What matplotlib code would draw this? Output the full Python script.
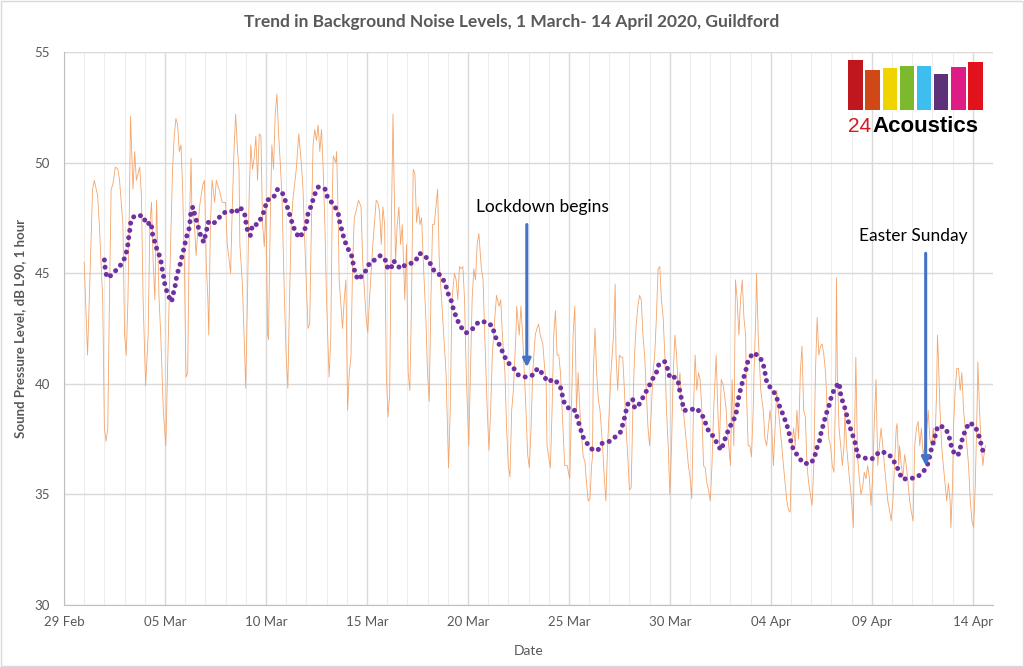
import pandas as pd
import matplotlib
matplotlib.use("Agg")
from matplotlib import pyplot as plt
from matplotlib.patches import Rectangle

# hourly background noise as (hours after 29 Feb 00:00, dB)
noise_hours = [
    24, 28, 32, 34, 36, 40, 42, 46, 48, 50, 52, 54, 56, 58, 61, 64, 66, 70, 72, 74,
    76, 78, 79, 82, 84, 86, 90, 92, 94, 97, 100, 102, 104, 106, 108, 110, 113, 115, 118, 121,
    123, 125, 129, 131, 133, 135, 137, 139, 141, 143, 145, 147, 149, 151, 152, 155, 157, 161, 165, 167,
    169, 171, 172, 174, 176, 179, 181, 185, 188, 192, 194, 196, 198, 200, 202, 204, 206, 208, 209, 212,
    216, 218, 220, 222, 224, 226, 228, 230, 232, 234, 236, 238, 240, 242, 243, 245, 247, 249, 251, 253,
    255, 257, 259, 262, 264, 266, 268, 270, 272, 276, 279, 282, 284, 287, 290, 292, 294, 296, 298, 300,
    302, 304, 306, 308, 310, 312, 315, 317, 319, 320, 323, 324, 326, 327, 331, 333, 335, 337, 339, 341,
    343, 345, 347, 350, 353, 355, 359, 361, 363, 367, 371, 373, 375, 377, 379, 381, 383, 385, 387, 389,
    391, 392, 394, 396, 398, 400, 402, 405, 407, 409, 411, 413, 415, 417, 419, 421, 423, 425, 427, 430,
    432, 434, 436, 438, 440, 442, 444, 446, 450, 454, 457, 459, 461, 464, 466, 468, 470, 472, 474, 476,
    478, 481, 483, 485, 487, 489, 491, 493, 496, 498, 500, 503, 505, 507, 509, 512, 514, 517, 519, 521,
    524, 526, 528, 530, 532, 534, 537, 538, 541, 543, 545, 547, 549, 551, 553, 555, 557, 560, 562, 564,
    566, 569, 571, 573, 574, 576, 578, 580, 582, 584, 586, 588, 590, 592, 595, 598, 601, 603, 605, 607,
    608, 609, 611, 613, 615, 617, 619, 621, 623, 625, 627, 628, 629, 631, 633, 635, 637, 640, 642, 644,
    646, 648, 650, 653, 655, 656, 658, 660, 662, 664, 666, 668, 670, 672, 674, 676, 678, 680, 682, 684,
    686, 688, 690, 692, 694, 696, 698, 700, 702, 704, 706, 708, 710, 712, 714, 716, 718, 720, 722, 724,
    726, 728, 730, 732, 734, 736, 738, 740, 742, 744, 746, 748, 750, 752, 754, 756, 758, 760, 762, 764,
    766, 768, 770, 772, 774, 775, 777, 779, 781, 783, 785, 787, 788, 790, 792, 794, 796, 798, 800, 802,
    804, 806, 808, 810, 811, 813, 815, 817, 819, 820, 822, 823, 825, 827, 828, 831, 833, 835, 837, 839,
    841, 843, 845, 847, 849, 851, 853, 855, 857, 859, 861, 863, 865, 867, 869, 871, 873, 875, 877, 879,
    881, 883, 885, 887, 889, 891, 893, 895, 897, 899, 901, 903, 905, 907, 909, 911, 913, 915, 917, 918,
    919, 921, 923, 925, 927, 928, 930, 932, 934, 936, 938, 939, 941, 943, 945, 947, 949, 951, 953, 955,
    957, 959, 961, 963, 965, 967, 969, 971, 973, 975, 977, 979, 981, 983, 985, 987, 989, 990, 992, 993,
    995, 997, 999, 1001, 1003, 1005, 1007, 1009, 1011, 1013, 1015, 1017, 1019, 1021, 1023, 1025, 1027, 1029, 1031, 1033,
    1035, 1037, 1038, 1039, 1041, 1043, 1045, 1047, 1049, 1051, 1053, 1054, 1056, 1057, 1059, 1061, 1063, 1065, 1067, 1069,
    1071, 1073, 1075, 1077, 1079, 1081, 1083, 1085, 1086, 1088, 1090, 1092, 1093, 1095,
]
noise_db = [
    45.5, 41.3, 46.3, 48.8, 49.2, 48.5, 47.2, 43.8, 38.0, 37.4, 38.0, 43.8, 48.8, 49.0, 49.8, 49.7, 49.2, 47.2, 42.2, 41.3,
    43.8, 48.8, 52.1, 48.8, 50.5, 49.2, 49.8, 48.5, 43.8, 39.9, 42.2, 47.2, 48.2, 45.5, 43.8, 48.3, 43.8, 42.2, 38.8, 37.2,
    40.5, 43.8, 49.7, 51.2, 52.0, 51.7, 50.5, 50.8, 48.8, 45.5, 40.3, 40.5, 47.2, 50.2, 47.8, 47.2, 45.8, 48.0, 49.0, 49.2,
    45.5, 43.8, 42.2, 47.2, 49.2, 48.2, 49.2, 48.7, 48.2, 48.2, 46.3, 45.7, 45.0, 48.0, 50.5, 52.2, 50.7, 49.7, 46.3, 44.5,
    39.8, 43.8, 48.5, 50.8, 49.7, 50.2, 51.2, 49.2, 51.3, 51.2, 47.2, 46.2, 48.0, 42.2, 42.0, 47.2, 50.8, 49.7, 52.2, 53.1,
    51.3, 50.0, 48.5, 43.8, 41.3, 39.8, 43.8, 47.2, 48.3, 49.7, 51.3, 50.0, 48.8, 45.5, 42.5, 42.7, 47.2, 50.8, 51.5, 51.0,
    51.7, 50.5, 51.5, 49.7, 47.2, 43.8, 40.3, 42.0, 48.8, 50.3, 50.0, 50.5, 47.2, 44.7, 42.5, 43.8, 44.7, 38.8, 40.5, 41.2,
    45.5, 47.5, 47.8, 48.3, 48.0, 45.5, 43.0, 42.3, 43.8, 46.3, 48.3, 48.2, 47.8, 46.3, 48.0, 47.2, 40.5, 38.5, 39.5, 47.2,
    52.2, 49.7, 45.5, 47.2, 48.0, 46.3, 47.2, 43.8, 46.3, 40.5, 39.7, 43.8, 49.7, 49.5, 47.3, 48.0, 47.2, 47.5, 45.5, 43.0,
    40.5, 39.2, 43.8, 47.2, 47.2, 48.0, 48.8, 45.5, 43.0, 40.5, 36.2, 38.8, 43.8, 45.0, 44.7, 43.8, 45.3, 45.2, 45.3, 43.8,
    40.5, 37.2, 40.5, 43.8, 45.2, 44.7, 46.3, 46.8, 45.2, 44.7, 42.2, 38.8, 37.0, 38.8, 41.3, 43.0, 44.0, 43.5, 43.8, 42.2,
    40.5, 38.0, 36.3, 35.8, 38.8, 39.7, 42.2, 43.5, 42.2, 43.5, 42.2, 40.5, 38.8, 36.8, 36.2, 38.0, 40.5, 42.2, 42.5, 42.7,
    42.2, 41.8, 40.8, 40.0, 37.2, 36.7, 36.2, 38.8, 42.2, 43.3, 41.3, 41.3, 40.5, 38.8, 36.3, 36.3, 35.7, 38.8, 42.2, 43.5,
    41.3, 38.8, 40.5, 38.8, 37.7, 36.7, 36.5, 35.5, 34.7, 34.8, 36.3, 36.7, 40.5, 42.5, 40.5, 39.3, 38.8, 37.2, 35.8, 34.7,
    37.2, 38.8, 40.5, 42.2, 44.5, 41.3, 39.7, 41.3, 41.2, 41.2, 39.7, 38.0, 36.7, 35.2, 35.3, 38.8, 41.3, 42.7, 43.5, 44.0,
    43.8, 42.2, 41.3, 39.7, 38.0, 37.2, 38.8, 40.5, 41.3, 43.0, 45.2, 45.3, 43.8, 43.0, 41.3, 38.8, 37.2, 35.0, 37.2, 40.5,
    42.2, 41.3, 39.7, 40.5, 38.8, 38.8, 38.0, 37.2, 36.3, 35.8, 34.8, 38.8, 41.3, 39.7, 40.5, 40.2, 38.8, 36.3, 36.2, 35.5,
    35.2, 34.7, 36.3, 38.8, 40.5, 41.3, 38.8, 37.2, 40.2, 40.0, 39.5, 38.8, 38.0, 37.2, 36.3, 40.2, 37.2, 44.7, 43.8, 42.2,
    43.8, 44.7, 43.0, 42.2, 39.7, 37.2, 37.2, 36.7, 38.8, 40.5, 43.0, 45.0, 42.2, 40.5, 39.7, 38.8, 37.5, 37.2, 38.0, 38.8,
    38.0, 36.3, 38.0, 39.7, 38.8, 38.0, 37.2, 36.3, 35.5, 34.7, 34.3, 34.2, 37.2, 38.0, 37.2, 38.8, 37.5, 40.5, 41.7, 38.8,
    38.5, 36.3, 35.5, 35.0, 34.5, 36.3, 40.5, 43.0, 41.3, 41.7, 41.8, 41.3, 40.5, 38.8, 37.5, 37.2, 36.3, 36.0, 39.7, 44.8,
    40.5, 38.0, 37.2, 36.3, 37.2, 38.8, 37.2, 36.3, 35.5, 34.7, 33.5, 36.7, 41.2, 36.7, 35.8, 35.0, 35.3, 36.0, 35.7, 36.3,
    35.8, 34.5, 35.8, 38.3, 40.2, 36.3, 37.2, 38.0, 37.2, 36.3, 35.5, 34.7, 34.3, 33.8, 34.7, 36.3, 38.0, 38.2, 36.3, 37.2,
    36.3, 35.8, 36.8, 36.3, 35.5, 34.7, 34.2, 33.8, 37.2, 38.0, 38.3, 37.2, 38.0, 36.8, 37.2, 37.8, 38.8, 37.5, 37.2, 38.0,
    37.2, 39.7, 42.2, 41.3, 38.8, 37.2, 36.3, 35.5, 34.7, 35.5, 34.7, 33.5, 35.5, 38.0, 39.7, 40.7, 40.7, 39.7, 40.5, 38.8,
    38.0, 37.2, 36.3, 34.7, 33.8, 33.5, 35.5, 38.8, 41.0, 38.8, 37.2, 36.3, 36.7, 37.2,
]

# 24 hour moving average trend line
trend_hours = [
    48, 49, 51, 56, 61, 68, 73, 75.6, 76.8, 78.4, 79.6, 84, 94, 98, 103.5, 105, 108, 111, 114.6, 116.6,
    118.6, 120.2, 123.8, 127.8, 130, 132.5, 134, 138, 140.5, 143, 145.3, 148.5, 150, 150.8, 153.2, 155.6, 158.8, 162, 166, 169.2,
    171.5, 176.3, 181.9, 188.4, 194.4, 199.5, 203.5, 209, 214.6, 216.2, 218.2, 221.4, 224.1, 229.7, 234.4, 238.8, 240.8, 248.7, 253.9, 259.8,
    263.8, 267.4, 270.9, 274.1, 279.3, 285.6, 288.4, 290, 294.4, 297.1, 302.3, 310.2, 313.4, 320.5, 325.7, 327.7, 330.4, 333.2, 336.4, 338.8,
    341.2, 343.5, 345.9, 349.5, 357, 361, 363.8, 369.3, 376.1, 382.8, 384.8, 388.8, 390.8, 394, 399.5, 406.6, 412.6, 417.7, 422.5, 428.8,
    434.4, 439.9, 447.5, 453, 456.2, 460.2, 463.3, 467.3, 470.9, 478, 486, 492.7, 501.8, 509.4, 511.7, 516.9, 521.7, 526.4, 533.6, 539.9,
    549, 557.4, 562.9, 570, 574.2, 582.9, 589.7, 592.1, 594.8, 602, 607.9, 610.3, 613.5, 616.7, 622.6, 628.6, 634.5, 638.9, 648.4, 655.1,
    661.1, 664.3, 667, 669.4, 675.8, 678.2, 684.1, 688.9, 694, 699.2, 703.9, 707.1, 713.9, 717, 720.2, 725.8, 730.1, 732.1, 734.5, 736.9,
    742.4, 751.5, 758.3, 762.6, 766.6, 772.6, 776.5, 780.9, 784.5, 788.4, 793.2, 798.3, 799.9, 801.9, 804.3, 807.1, 810.2, 812.6, 818.6, 826.5,
    830.9, 833.3, 835.2, 840, 846, 849.1, 853.5, 857.5, 861, 863, 866.2, 872.5, 878.9, 887.6, 892.4, 893.2, 897.5, 899.5, 902.3, 905.5,
    909, 911.8, 915.8, 921.3, 922.5, 925.3, 928.9, 931.2, 934.8, 938.4, 941.6, 942.3, 947.5, 955.2, 960, 965.2, 971.1, 980.6, 986.2, 991.7,
    995.7, 1004.8, 1014.7, 1022.7, 1027.4, 1029.4, 1032.2, 1035.3, 1038.5, 1045.3, 1051.2, 1053.2, 1056.4, 1062.3, 1065.1, 1067.5, 1071.1, 1075.8, 1082.2, 1086.2,
    1089.3, 1092.1,
]
trend_db = [
    45.6, 45.2, 44.8, 44.9, 45.1, 45.4, 45.75, 46.2, 46.6, 47.0, 47.4, 47.6, 47.6, 47.2, 47.3, 46.8, 46.4, 46.0, 45.7, 45.2,
    44.8, 44.4, 44.0, 43.7, 44.1, 44.5, 44.9, 45.4, 45.8, 46.2, 46.6, 47.0, 47.4, 47.8, 48.0, 47.6, 47.2, 46.75, 46.4, 46.9,
    47.3, 47.2, 47.4, 47.7, 47.8, 47.8, 47.7, 48.0, 47.7, 47.3, 46.9, 46.7, 47.2, 47.2, 47.5, 47.9, 48.3, 48.4, 48.8, 48.6,
    48.2, 47.75, 47.3, 46.95, 46.6, 46.9, 47.3, 47.7, 48.1, 48.5, 48.9, 48.8, 48.4, 48.1, 47.75, 47.3, 46.9, 46.5, 46.2, 46.0,
    45.9, 45.45, 45.0, 44.7, 45.0, 45.3, 45.5, 45.6, 45.8, 45.55, 45.2, 45.2, 45.55, 45.5, 45.2, 45.4, 45.45, 45.55, 45.9, 45.8,
    45.5, 45.1, 44.9, 44.55, 44.1, 43.75, 43.3, 42.9, 42.6, 42.3, 42.5, 42.8, 42.8, 42.6, 42.2, 41.8, 41.4, 41.0, 40.75, 40.4,
    40.3, 40.4, 40.7, 40.4, 40.1, 40.2, 39.9, 39.5, 39.1, 38.8, 38.8, 38.4, 38.0, 37.6, 37.25, 37.0, 37.0, 37.3, 37.4, 37.6,
    37.8, 38.2, 38.6, 39.05, 39.3, 38.9, 39.1, 39.45, 39.8, 40.2, 40.5, 40.9, 41.0, 40.7, 40.25, 40.3, 40.05, 39.6, 39.2, 38.8,
    38.8, 38.9, 38.6, 38.2, 37.8, 37.6, 37.25, 37.0, 37.4, 37.8, 38.2, 38.55, 38.95, 39.4, 39.8, 40.2, 40.6, 41.0, 41.4, 41.25,
    40.9, 40.45, 40.05, 39.8, 39.5, 39.1, 38.7, 38.3, 37.9, 37.5, 37.1, 36.7, 36.4, 36.4, 36.7, 36.95, 37.35, 37.75, 38.15, 38.6,
    39.0, 39.4, 39.8, 40.05, 39.6, 39.2, 38.8, 38.4, 37.95, 37.55, 37.15, 36.75, 36.7, 36.6, 36.6, 36.8, 36.95, 36.8, 36.5, 36.1,
    35.7, 35.7, 35.8, 36.1, 36.45, 36.85, 37.25, 37.65, 38.1, 38.05, 37.75, 37.35, 36.95, 36.75, 37.1, 37.5, 37.9, 38.25, 38.1, 37.8,
    37.35, 36.95,
]

tick_dates = pd.date_range("2020-02-29", periods=10, freq="5D")
logo_colors = ["#C0161E", "#CF4816", "#F0D400", "#7CB92C", "#3DBEEE", "#5E3279", "#DF1C85", "#E1121C"]
logo_heights = [50, 40, 42, 44, 44, 36, 43, 48]

start = pd.Timestamp("2020-02-29")
noise_t = start + pd.to_timedelta(noise_hours, unit="h")
trend_t = start + pd.to_timedelta(trend_hours, unit="h")

plt.rcParams['font.family'] = ['Lato', 'DejaVu Sans']
grey = '#595959'

fig = plt.figure(figsize=(10.24, 6.67), dpi=100)
fig.patches.append(Rectangle((0.001, 0.001), 0.998, 0.997, transform=fig.transFigure,
                             fill=False, edgecolor='#D9D9D9', lw=1))
ax = fig.add_axes([64 / 1024, 1 - 605 / 667, 929 / 1024, 553 / 667])

ax.plot(noise_t, noise_db, color='#F3A56B', lw=0.6, zorder=2)
ax.plot(trend_t, trend_db, color='#7030A0', lw=3.6, linestyle=(0, (0.01, 1.45)),
        dash_capstyle='round', zorder=3)

ax.set_ylim(30, 55)
ax.set_yticks(range(30, 56, 5))
ax.set_xlim(start, start + pd.Timedelta(days=46))
ax.set_xticks(tick_dates)
ax.set_xticklabels([d.strftime('%d %b') for d in tick_dates])
ax.set_xticks(pd.date_range(start, periods=47, freq="D"), minor=True)
ax.grid(which='minor', axis='x', color='#EDEDED', lw=0.8)
ax.grid(which='major', axis='x', color='#D9D9D9', lw=1.0)
ax.grid(which='major', axis='y', color='#D9D9D9', lw=1.0)
ax.set_axisbelow(True)
for s in ['top', 'right']:
    ax.spines[s].set_visible(False)
for s in ['left', 'bottom']:
    ax.spines[s].set_color('#BFBFBF')
ax.tick_params(which='both', length=0, colors=grey, labelsize=9.5, pad=8)
ax.tick_params(axis='y', pad=10)

ax.set_xlabel('Date', color=grey, fontsize=10, labelpad=12)
ax.set_ylabel('Sound Pressure Level, dB L90, 1 hour', color=grey, fontsize=9.5,
              fontweight='bold', labelpad=6)
fig.text(0.5, 1 - 22 / 667, 'Trend in Background Noise Levels, 1 March- 14 April 2020, Guildford',
         ha='center', va='center', color=grey, fontsize=12.5, fontweight='bold')

# annotations
arrow = dict(arrowstyle='-|>', color='#4472C4', lw=2.2, mutation_scale=12, shrinkA=0, shrinkB=0)
ax.annotate('', xy=(start + pd.Timedelta(hours=550), 40.75),
            xytext=(start + pd.Timedelta(hours=550), 47.2), arrowprops=arrow)
ax.text(start + pd.Timedelta(hours=568), 48.0, 'Lockdown begins', ha='center', va='center',
        fontsize=12.5, color='black')
ax.annotate('', xy=(start + pd.Timedelta(hours=1024), 36.3),
            xytext=(start + pd.Timedelta(hours=1024), 45.9), arrowprops=arrow)
ax.text(start + pd.Timedelta(hours=1009), 46.7, 'Easter Sunday', ha='center', va='center',
        fontsize=12.5, color='black')

# 24Acoustics logo
lax = fig.add_axes([848 / 1024, 1 - 110 / 667, 135 / 1024, 50 / 667])
lax.bar(range(len(logo_heights)), logo_heights, width=0.86, color=logo_colors)
lax.set_xlim(-0.45, len(logo_heights) - 0.55)
lax.set_ylim(0, 50)
lax.axis('off')
fig.text(848 / 1024, 1 - 132 / 667, '24', color='#D7191F', fontsize=15,
         family='Liberation Sans', ha='left', va='baseline')
fig.text(872 / 1024, 1 - 132 / 667, 'Acoustics', color='black', fontsize=16,
         family='Liberation Sans', fontweight='bold', ha='left', va='baseline')

fig.savefig('out.png', dpi=100)
